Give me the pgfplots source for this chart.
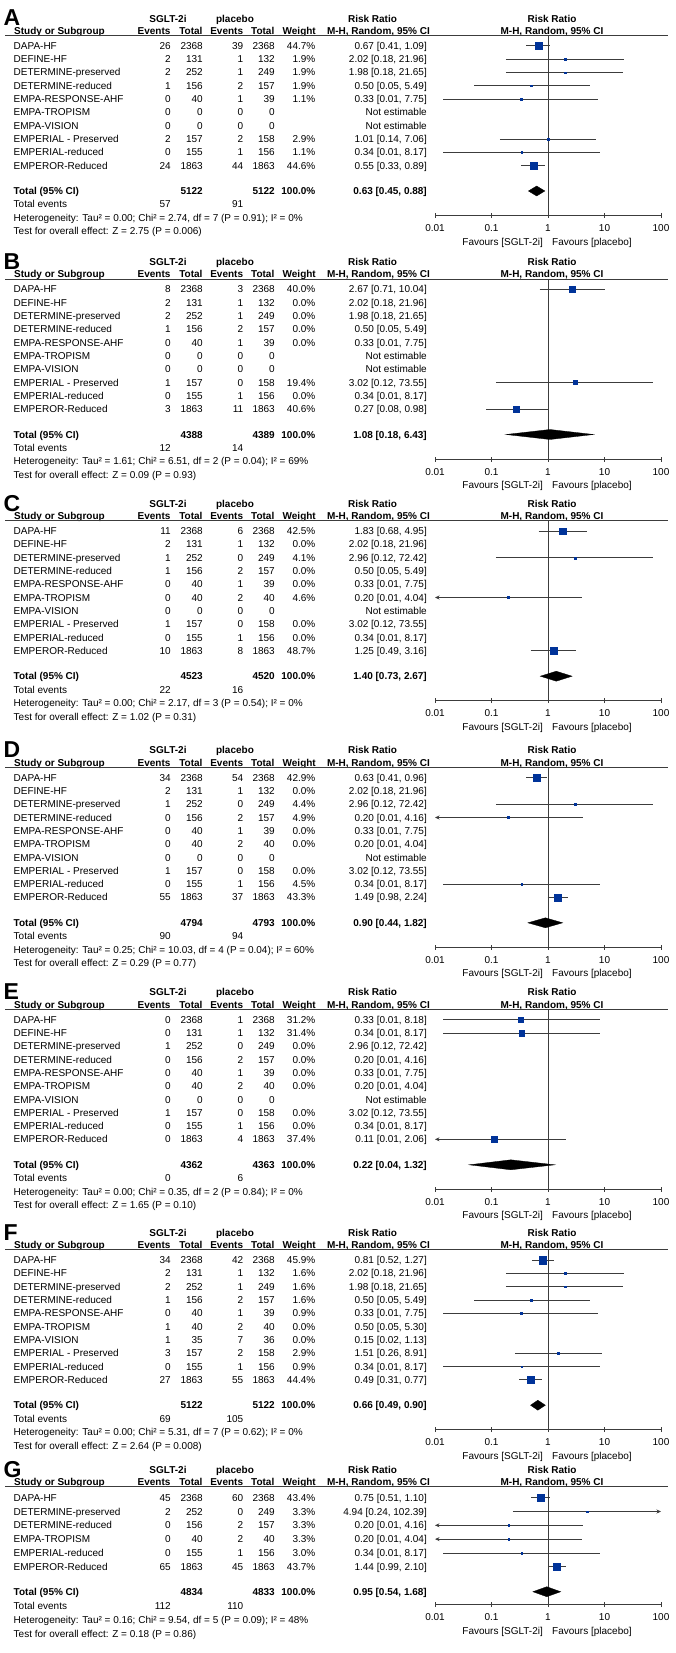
\documentclass[border=0pt]{standalone}
\usepackage{fontspec}
\setmainfont{Liberation Sans}
\usepackage{pgfplots}
\pgfplotsset{compat=1.18}
\usetikzlibrary{arrows.meta}
\definecolor{sqblue}{RGB}{0,51,153}
\definecolor{lg}{RGB}{60,60,60}
\newcommand\tx{\fontsize{10}{12}\selectfont}

\pgfplotsset{
  fpanel/.style={
    scale only axis, width=226pt, xmin=0.01, xmax=100,
    axis x line=bottom, axis y line=none,
    axis line style={-, draw=lg, line width=0.9pt},
    xtick={0.01,0.1,1,10,100}, xticklabels={0.01,0.1,1,10,100}, xminorticks=false,
    tick align=center, major tick length=5pt, tick style={draw=lg, line width=0.9pt},
    xticklabel style={font=\tx, inner sep=0pt, anchor=north, yshift=-6.5pt},
    ytick=\empty, clip=false, anchor=south west,
  },
}
\tikzset{
  ci/.style={draw=lg, line width=0.8pt},
  sq/.style={only marks, mark=square*, mark options={draw=sqblue, fill=sqblue, line width=0.1pt}},
  vl/.style={draw=lg, line width=0.9pt},
  dia/.style={draw=black, fill=black, line width=0.3pt},
  la/.style={arrows={Stealth[length=4.5pt,width=4pt]-}},
  ra/.style={arrows={-Stealth[length=4.5pt,width=4pt]}},
}

% text helpers (coordinates in pixels, y downwards)
\newcommand\heads[1]{%
  \node[anchor=base west,font=\fontsize{23}{23}\selectfont\bfseries] at (3.5,{\U-9.5}) {#1};
  \node[anchor=base,font=\tx\bfseries] at (168,{\U-13.4}) {SGLT-2i};
  \node[anchor=base,font=\tx\bfseries] at (235,{\U-13.4}) {placebo};
  \node[anchor=base,font=\tx\bfseries] at (372.5,{\U-13.4}) {Risk Ratio};
  \node[anchor=base,font=\tx\bfseries] at (552,{\U-13.4}) {Risk Ratio};
  \node[anchor=base west,font=\tx\bfseries] at (14,{\U-1.3}) {Study or Subgroup};
  \node[anchor=base east,font=\tx\bfseries] at (170.7,{\U-1.3}) {Events};
  \node[anchor=base east,font=\tx\bfseries] at (202.7,{\U-1.3}) {Total};
  \node[anchor=base east,font=\tx\bfseries] at (243.3,{\U-1.3}) {Events};
  \node[anchor=base east,font=\tx\bfseries] at (274.5,{\U-1.3}) {Total};
  \node[anchor=base east,font=\tx\bfseries] at (316,{\U-1.3}) {Weight};
  \node[anchor=base east,font=\tx\bfseries] at (430,{\U-1.3}) {M-H, Random, 95\% CI};
  \node[anchor=base,font=\tx\bfseries] at (552,{\U-1.3}) {M-H, Random, 95\% CI};
  \draw[draw=lg,line width=1pt] (5,\U) -- (668,\U);
}
\newcommand\srow[8]{%
  \pgfmathsetmacro\yy{\U+\ro+3.6+\rs*(#1-1)}%
  \node[anchor=base west] at (13.5,\yy) {#2};
  \node[anchor=base east] at (171,\yy) {#3};
  \node[anchor=base east] at (203,\yy) {#4};
  \node[anchor=base east] at (243.5,\yy) {#5};
  \node[anchor=base east] at (275,\yy) {#6};
  \node[anchor=base east] at (315.5,\yy) {#7};
  \node[anchor=base east] at (427,\yy) {#8};
}
\newcommand\pfoot[7]{%
  \pgfmathsetmacro\ya{\U+\tot+3.6}%
  \pgfmathsetmacro\yb{\ya+\fs}%
  \pgfmathsetmacro\yc{\ya+2*\fs}%
  \pgfmathsetmacro\yd{\ya+3*\fs}%
  \pgfmathsetmacro\yf{\U+\ax+26+3.6}%
  \node[anchor=base west,font=\tx\bfseries] at (13.5,\ya) {Total (95\% CI)};
  \node[anchor=base east,font=\tx\bfseries] at (203,\ya) {#1};
  \node[anchor=base east,font=\tx\bfseries] at (275,\ya) {#2};
  \node[anchor=base east,font=\tx\bfseries] at (315.5,\ya) {100.0\%};
  \node[anchor=base east,font=\tx\bfseries] at (427,\ya) {#3};
  \node[anchor=base west] at (13.5,\yb) {Total events};
  \node[anchor=base east] at (171,\yb) {#4};
  \node[anchor=base east] at (243.5,\yb) {#5};
  \node[anchor=base west] at (13.5,\yc) {#6};
  \node[anchor=base west] at (13.5,\yd) {#7};
  \node[anchor=base east] at (543,\yf) {Favours [SGLT-2i]};
  \node[anchor=base west] at (552,\yf) {Favours [placebo]};
}
% plot helpers: row, estimate, lower, upper, weight
\newcommand\st[5]{%
  \addplot[ci] coordinates {(#3,-#1) (#4,-#1)};
  \addplot[sq, mark size={0.7+0.0625*#5}] coordinates {(#2,-#1)};}
\newcommand\stl[5]{%
  \addplot[ci,la] coordinates {(#3,-#1) (#4,-#1)};
  \addplot[sq, mark size={0.7+0.0625*#5}] coordinates {(#2,-#1)};}
\newcommand\str[5]{%
  \addplot[ci,ra] coordinates {(#3,-#1) (#4,-#1)};
  \addplot[sq, mark size={0.7+0.0625*#5}] coordinates {(#2,-#1)};}

\begin{document}
\begin{tikzpicture}
\begin{scope}[x=1pt,y=-1pt,every node/.style={inner sep=0pt,font=\tx}]
\path (0,0) rectangle (675,1653);
\def\ro{10.3}\def\rs{13.3}\def\tot{155.5}\def\fs{13.4}\def\ax{180}
% ---------------- A
\def\U{35.5}
\heads{A}
\srow{1}{DAPA-HF}{26}{2368}{39}{2368}{44.7\%}{0.67 [0.41, 1.09]}
\srow{2}{DEFINE-HF}{2}{131}{1}{132}{1.9\%}{2.02 [0.18, 21.96]}
\srow{3}{DETERMINE-preserved}{2}{252}{1}{249}{1.9\%}{1.98 [0.18, 21.65]}
\srow{4}{DETERMINE-reduced}{1}{156}{2}{157}{1.9\%}{0.50 [0.05, 5.49]}
\srow{5}{EMPA-RESPONSE-AHF}{0}{40}{1}{39}{1.1\%}{0.33 [0.01, 7.75]}
\srow{6}{EMPA-TROPISM}{0}{0}{0}{0}{}{Not estimable}
\srow{7}{EMPA-VISION}{0}{0}{0}{0}{}{Not estimable}
\srow{8}{EMPERIAL - Preserved}{2}{157}{2}{158}{2.9\%}{1.01 [0.14, 7.06]}
\srow{9}{EMPERIAL-reduced}{0}{155}{1}{156}{1.1\%}{0.34 [0.01, 8.17]}
\srow{10}{EMPEROR-Reduced}{24}{1863}{44}{1863}{44.6\%}{0.55 [0.33, 0.89]}
\pfoot{5122}{5122}{0.63 [0.45, 0.88]}{57}{91}{Heterogeneity: Tau² = 0.00; Chi² = 2.74, df = 7 (P = 0.91); I² = 0\%}{Test for overall effect: Z = 2.75 (P = 0.006)}
% ---------------- B
\def\U{279}
\heads{B}
\srow{1}{DAPA-HF}{8}{2368}{3}{2368}{40.0\%}{2.67 [0.71, 10.04]}
\srow{2}{DEFINE-HF}{2}{131}{1}{132}{0.0\%}{2.02 [0.18, 21.96]}
\srow{3}{DETERMINE-preserved}{2}{252}{1}{249}{0.0\%}{1.98 [0.18, 21.65]}
\srow{4}{DETERMINE-reduced}{1}{156}{2}{157}{0.0\%}{0.50 [0.05, 5.49]}
\srow{5}{EMPA-RESPONSE-AHF}{0}{40}{1}{39}{0.0\%}{0.33 [0.01, 7.75]}
\srow{6}{EMPA-TROPISM}{0}{0}{0}{0}{}{Not estimable}
\srow{7}{EMPA-VISION}{0}{0}{0}{0}{}{Not estimable}
\srow{8}{EMPERIAL - Preserved}{1}{157}{0}{158}{19.4\%}{3.02 [0.12, 73.55]}
\srow{9}{EMPERIAL-reduced}{0}{155}{1}{156}{0.0\%}{0.34 [0.01, 8.17]}
\srow{10}{EMPEROR-Reduced}{3}{1863}{11}{1863}{40.6\%}{0.27 [0.08, 0.98]}
\pfoot{4388}{4389}{1.08 [0.18, 6.43]}{12}{14}{Heterogeneity: Tau² = 1.61; Chi² = 6.51, df = 2 (P = 0.04); I² = 69\%}{Test for overall effect: Z = 0.09 (P = 0.93)}
% ---------------- C
\def\U{520.7}
\heads{C}
\srow{1}{DAPA-HF}{11}{2368}{6}{2368}{42.5\%}{1.83 [0.68, 4.95]}
\srow{2}{DEFINE-HF}{2}{131}{1}{132}{0.0\%}{2.02 [0.18, 21.96]}
\srow{3}{DETERMINE-preserved}{1}{252}{0}{249}{4.1\%}{2.96 [0.12, 72.42]}
\srow{4}{DETERMINE-reduced}{1}{156}{2}{157}{0.0\%}{0.50 [0.05, 5.49]}
\srow{5}{EMPA-RESPONSE-AHF}{0}{40}{1}{39}{0.0\%}{0.33 [0.01, 7.75]}
\srow{6}{EMPA-TROPISM}{0}{40}{2}{40}{4.6\%}{0.20 [0.01, 4.04]}
\srow{7}{EMPA-VISION}{0}{0}{0}{0}{}{Not estimable}
\srow{8}{EMPERIAL - Preserved}{1}{157}{0}{158}{0.0\%}{3.02 [0.12, 73.55]}
\srow{9}{EMPERIAL-reduced}{0}{155}{1}{156}{0.0\%}{0.34 [0.01, 8.17]}
\srow{10}{EMPEROR-Reduced}{10}{1863}{8}{1863}{48.7\%}{1.25 [0.49, 3.16]}
\pfoot{4523}{4520}{1.40 [0.73, 2.67]}{22}{16}{Heterogeneity: Tau² = 0.00; Chi² = 2.17, df = 3 (P = 0.54); I² = 0\%}{Test for overall effect: Z = 1.02 (P = 0.31)}
% ---------------- D
\def\U{767.3}
\heads{D}
\srow{1}{DAPA-HF}{34}{2368}{54}{2368}{42.9\%}{0.63 [0.41, 0.96]}
\srow{2}{DEFINE-HF}{2}{131}{1}{132}{0.0\%}{2.02 [0.18, 21.96]}
\srow{3}{DETERMINE-preserved}{1}{252}{0}{249}{4.4\%}{2.96 [0.12, 72.42]}
\srow{4}{DETERMINE-reduced}{0}{156}{2}{157}{4.9\%}{0.20 [0.01, 4.16]}
\srow{5}{EMPA-RESPONSE-AHF}{0}{40}{1}{39}{0.0\%}{0.33 [0.01, 7.75]}
\srow{6}{EMPA-TROPISM}{0}{40}{2}{40}{0.0\%}{0.20 [0.01, 4.04]}
\srow{7}{EMPA-VISION}{0}{0}{0}{0}{}{Not estimable}
\srow{8}{EMPERIAL - Preserved}{1}{157}{0}{158}{0.0\%}{3.02 [0.12, 73.55]}
\srow{9}{EMPERIAL-reduced}{0}{155}{1}{156}{4.5\%}{0.34 [0.01, 8.17]}
\srow{10}{EMPEROR-Reduced}{55}{1863}{37}{1863}{43.3\%}{1.49 [0.98, 2.24]}
\pfoot{4794}{4793}{0.90 [0.44, 1.82]}{90}{94}{Heterogeneity: Tau² = 0.25; Chi² = 10.03, df = 4 (P = 0.04); I² = 60\%}{Test for overall effect: Z = 0.29 (P = 0.77)}
% ---------------- E
\def\U{1009.3}
\heads{E}
\srow{1}{DAPA-HF}{0}{2368}{1}{2368}{31.2\%}{0.33 [0.01, 8.18]}
\srow{2}{DEFINE-HF}{0}{131}{1}{132}{31.4\%}{0.34 [0.01, 8.17]}
\srow{3}{DETERMINE-preserved}{1}{252}{0}{249}{0.0\%}{2.96 [0.12, 72.42]}
\srow{4}{DETERMINE-reduced}{0}{156}{2}{157}{0.0\%}{0.20 [0.01, 4.16]}
\srow{5}{EMPA-RESPONSE-AHF}{0}{40}{1}{39}{0.0\%}{0.33 [0.01, 7.75]}
\srow{6}{EMPA-TROPISM}{0}{40}{2}{40}{0.0\%}{0.20 [0.01, 4.04]}
\srow{7}{EMPA-VISION}{0}{0}{0}{0}{}{Not estimable}
\srow{8}{EMPERIAL - Preserved}{1}{157}{0}{158}{0.0\%}{3.02 [0.12, 73.55]}
\srow{9}{EMPERIAL-reduced}{0}{155}{1}{156}{0.0\%}{0.34 [0.01, 8.17]}
\srow{10}{EMPEROR-Reduced}{0}{1863}{4}{1863}{37.4\%}{0.11 [0.01, 2.06]}
\pfoot{4362}{4363}{0.22 [0.04, 1.32]}{0}{6}{Heterogeneity: Tau² = 0.00; Chi² = 0.35, df = 2 (P = 0.84); I² = 0\%}{Test for overall effect: Z = 1.65 (P = 0.10)}
% ---------------- F
\def\U{1249.7}
\heads{F}
\srow{1}{DAPA-HF}{34}{2368}{42}{2368}{45.9\%}{0.81 [0.52, 1.27]}
\srow{2}{DEFINE-HF}{2}{131}{1}{132}{1.6\%}{2.02 [0.18, 21.96]}
\srow{3}{DETERMINE-preserved}{2}{252}{1}{249}{1.6\%}{1.98 [0.18, 21.65]}
\srow{4}{DETERMINE-reduced}{1}{156}{2}{157}{1.6\%}{0.50 [0.05, 5.49]}
\srow{5}{EMPA-RESPONSE-AHF}{0}{40}{1}{39}{0.9\%}{0.33 [0.01, 7.75]}
\srow{6}{EMPA-TROPISM}{1}{40}{2}{40}{0.0\%}{0.50 [0.05, 5.30]}
\srow{7}{EMPA-VISION}{1}{35}{7}{36}{0.0\%}{0.15 [0.02, 1.13]}
\srow{8}{EMPERIAL - Preserved}{3}{157}{2}{158}{2.9\%}{1.51 [0.26, 8.91]}
\srow{9}{EMPERIAL-reduced}{0}{155}{1}{156}{0.9\%}{0.34 [0.01, 8.17]}
\srow{10}{EMPEROR-Reduced}{27}{1863}{55}{1863}{44.4\%}{0.49 [0.31, 0.77]}
\pfoot{5122}{5122}{0.66 [0.49, 0.90]}{69}{105}{Heterogeneity: Tau² = 0.00; Chi² = 5.31, df = 7 (P = 0.62); I² = 0\%}{Test for overall effect: Z = 2.64 (P = 0.008)}
% ---------------- G
\def\U{1486.7}\def\ro{11}\def\rs{13.8}\def\tot{105}\def\fs{13.9}\def\ax{118}
\heads{G}
\srow{1}{DAPA-HF}{45}{2368}{60}{2368}{43.4\%}{0.75 [0.51, 1.10]}
\srow{2}{DETERMINE-preserved}{2}{252}{0}{249}{3.3\%}{4.94 [0.24, 102.39]}
\srow{3}{DETERMINE-reduced}{0}{156}{2}{157}{3.3\%}{0.20 [0.01, 4.16]}
\srow{4}{EMPA-TROPISM}{0}{40}{2}{40}{3.3\%}{0.20 [0.01, 4.04]}
\srow{5}{EMPERIAL-reduced}{0}{155}{1}{156}{3.0\%}{0.34 [0.01, 8.17]}
\srow{6}{EMPEROR-Reduced}{65}{1863}{45}{1863}{43.7\%}{1.44 [0.99, 2.10]}
\pfoot{4834}{4833}{0.95 [0.54, 1.68]}{112}{110}{Heterogeneity: Tau² = 0.16; Chi² = 9.54, df = 5 (P = 0.09); I² = 48\%}{Test for overall effect: Z = 0.18 (P = 0.86)}
\end{scope}

% ================= forest plots =================
% A
\begin{axis}[xmode=log, fpanel, at={(435pt,-215.5pt)}, height=180pt, ymin=-13.759, ymax=-0.2256]
\addplot[vl] coordinates {(1,-0.2256) (1,-13.759)};
\st{1}{0.67}{0.41}{1.09}{44.7}
\st{2}{2.02}{0.18}{21.96}{1.9}
\st{3}{1.98}{0.18}{21.65}{1.9}
\st{4}{0.50}{0.05}{5.49}{1.9}
\st{5}{0.33}{0.014}{7.75}{1.1}
\st{8}{1.01}{0.14}{7.06}{2.9}
\st{9}{0.34}{0.014}{8.17}{1.1}
\st{10}{0.55}{0.33}{0.89}{44.6}
\addplot[dia] coordinates {(0.45,-11.917) (0.63,-11.541) (0.88,-11.917) (0.63,-12.293)} --cycle;
\end{axis}
% B
\begin{axis}[xmode=log, fpanel, at={(435pt,-459pt)}, height=180pt, ymin=-13.759, ymax=-0.2256]
\addplot[vl] coordinates {(1,-0.2256) (1,-13.759)};
\st{1}{2.67}{0.71}{10.04}{40.0}
\st{8}{3.02}{0.12}{73.55}{19.4}
\st{10}{0.27}{0.08}{0.98}{40.6}
\addplot[dia] coordinates {(0.18,-11.917) (1.08,-11.541) (6.43,-11.917) (1.08,-12.293)} --cycle;
\end{axis}
% C
\begin{axis}[xmode=log, fpanel, at={(435pt,-700.7pt)}, height=180pt, ymin=-13.759, ymax=-0.2256]
\addplot[vl] coordinates {(1,-0.2256) (1,-13.759)};
\st{1}{1.83}{0.68}{4.95}{42.5}
\st{3}{2.96}{0.12}{72.42}{4.1}
\stl{6}{0.20}{0.01}{4.04}{4.6}
\st{10}{1.25}{0.49}{3.16}{48.7}
\addplot[dia] coordinates {(0.73,-11.917) (1.40,-11.541) (2.67,-11.917) (1.40,-12.293)} --cycle;
\end{axis}
% D
\begin{axis}[xmode=log, fpanel, at={(435pt,-947.3pt)}, height=180pt, ymin=-13.759, ymax=-0.2256]
\addplot[vl] coordinates {(1,-0.2256) (1,-13.759)};
\st{1}{0.63}{0.41}{0.96}{42.9}
\st{3}{2.96}{0.12}{72.42}{4.4}
\stl{4}{0.20}{0.01}{4.16}{4.9}
\st{9}{0.34}{0.014}{8.17}{4.5}
\st{10}{1.49}{0.98}{2.24}{43.3}
\addplot[dia] coordinates {(0.44,-11.917) (0.90,-11.541) (1.82,-11.917) (0.90,-12.293)} --cycle;
\end{axis}
% E
\begin{axis}[xmode=log, fpanel, at={(435pt,-1189.3pt)}, height=180pt, ymin=-13.759, ymax=-0.2256]
\addplot[vl] coordinates {(1,-0.2256) (1,-13.759)};
\st{1}{0.33}{0.014}{8.18}{31.2}
\st{2}{0.34}{0.014}{8.17}{31.4}
\stl{10}{0.11}{0.01}{2.06}{37.4}
\addplot[dia] coordinates {(0.04,-11.917) (0.22,-11.541) (1.32,-11.917) (0.22,-12.293)} --cycle;
\end{axis}
% F
\begin{axis}[xmode=log, fpanel, at={(435pt,-1429.7pt)}, height=180pt, ymin=-13.759, ymax=-0.2256]
\addplot[vl] coordinates {(1,-0.2256) (1,-13.759)};
\st{1}{0.81}{0.52}{1.27}{45.9}
\st{2}{2.02}{0.18}{21.96}{1.6}
\st{3}{1.98}{0.18}{21.65}{1.6}
\st{4}{0.50}{0.05}{5.49}{1.6}
\st{5}{0.33}{0.014}{7.75}{0.9}
\st{8}{1.51}{0.26}{8.91}{2.9}
\st{9}{0.34}{0.014}{8.17}{0.9}
\st{10}{0.49}{0.31}{0.77}{44.4}
\addplot[dia] coordinates {(0.49,-11.917) (0.66,-11.541) (0.90,-11.917) (0.66,-12.293)} --cycle;
\end{axis}
% G
\begin{axis}[xmode=log, fpanel, at={(435pt,-1604.7pt)}, height=118pt, ymin=-8.754, ymax=-0.2029]
\addplot[vl] coordinates {(1,-0.2029) (1,-8.754)};
\st{1}{0.75}{0.51}{1.10}{43.4}
\str{2}{4.94}{0.24}{100}{3.3}
\stl{3}{0.20}{0.01}{4.16}{3.3}
\stl{4}{0.20}{0.01}{4.04}{3.3}
\st{5}{0.34}{0.014}{8.17}{3.0}
\st{6}{1.44}{0.99}{2.10}{43.7}
\addplot[dia] coordinates {(0.54,-7.812) (0.95,-7.45) (1.68,-7.812) (0.95,-8.174)} --cycle;
\end{axis}
\end{tikzpicture}
\end{document}
